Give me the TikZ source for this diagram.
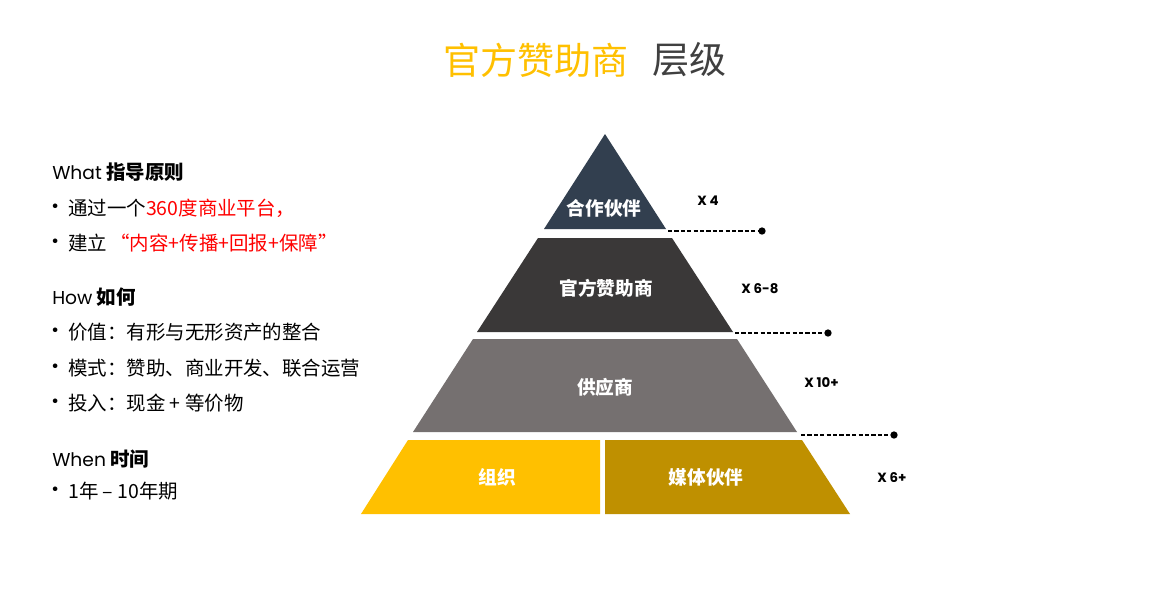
\documentclass[tikz,border=0pt]{standalone}
\usepackage{fontspec}
\setmainfont{Noto Sans CJK SC}
\newfontfamily\lat{Poppins}
\definecolor{goldY}{HTML}{FFC000}
\definecolor{goldD}{HTML}{BF9000}
\definecolor{slateT}{HTML}{323F4F}
\definecolor{darkB}{HTML}{3A3838}
\definecolor{grayB}{HTML}{757070}
\definecolor{titleG}{HTML}{404040}
\definecolor{redT}{HTML}{FF0000}
\begin{document}
\begin{tikzpicture}[x=0.75pt,y=-0.75pt,
  layer/.style={draw=none},
  ltext/.style={text=white,font=\fontsize{14}{16}\selectfont\bfseries,inner sep=0},
  xlab/.style={anchor=west,inner sep=0,font=\lat\fontsize{10}{12}\selectfont\bfseries},
  dashline/.style={line width=1.1pt,dash pattern=on 3.2pt off 1.6pt},
  dotend/.style={circle,fill=black,inner sep=0,minimum size=5.5pt},
  bul/.style={anchor=west,inner sep=0,font=\lat\fontsize{14}{16}\selectfont},
  body/.style={anchor=west,inner sep=0,font=\fontsize{14.6}{17}\selectfont},
  head/.style={anchor=west,inner sep=0,font=\fontsize{14.6}{17}\selectfont},
]
\useasboundingbox (0,0) rectangle (1168,608);
\fill[white] (0,0) rectangle (1168,608);

% title
\node[anchor=west,inner sep=0,text=goldY,font=\fontsize{27.8}{31}\selectfont] (title1) at (443,60) {官方赞助商};
\node[anchor=west,inner sep=0,text=titleG,font=\fontsize{27.8}{31}\selectfont] (title2) at (652,60) {层级};

% pyramid
\fill[slateT] (605,134) -- (666,229) -- (544,229) -- cycle;
\fill[darkB] (538,238) -- (672,238) -- (733,332) -- (477,332) -- cycle;
\fill[grayB] (473,339) -- (737,339) -- (797,432) -- (413,432) -- cycle;
\fill[goldY] (408,440) -- (600,440) -- (600,514) -- (361,514) -- cycle;
\fill[goldD] (605,440) -- (802,440) -- (850,514) -- (605,514) -- cycle;

\node[ltext] (l1) at (604,208) {合作伙伴};
\node[ltext] (l2) at (606,288) {官方赞助商};
\node[ltext] (l3) at (605,387) {供应商};
\node[ltext] (l4a) at (497,477) {组织};
\node[ltext] (l4b) at (706,477) {媒体伙伴};

% counts
\node[xlab] (x1) at (697,201) {X 4};
\node[xlab] (x2) at (741,289) {X 6-8};
\node[xlab] (x3) at (804,383) {X 10+};
\node[xlab] (x4) at (877,478) {X 6+};

% dashed leaders
\coordinate (d1a) at (668,231); \node[dotend] (d1b) at (762,231) {};
\coordinate (d2a) at (735,333); \node[dotend] (d2b) at (828,333) {};
\coordinate (d3a) at (801,435); \node[dotend] (d3b) at (894,435) {};
\draw[dashline] (d1a) -- (d1b.center);
\draw[dashline] (d2a) -- (d2b.center);
\draw[dashline] (d3a) -- (d3b.center);

% left text
\node[head] (h1) at (52,172) {{\lat\fontsize{14}{17}\selectfont What} \textbf{指导原则}};
\node[bul] (b1) at (51,208) {•};
\node[body] (t1) at (68,208) {通过一个\textcolor{redT}{360度商业平台，}};
\node[bul] (b2) at (51,243) {•};
\node[body] (t2) at (68,243) {建立\,\textcolor{redT}{“内容+传播+回报+保障”}};

\node[head] (h2) at (52,297) {{\lat\fontsize{14}{17}\selectfont How} \textbf{如何}};
\node[bul] (b3) at (51,332) {•};
\node[body] (t3) at (68,332) {价值：有形与无形资产的整合};
\node[bul] (b4) at (51,368) {•};
\node[body] (t4) at (68,368) {模式：赞助、商业开发、联合运营};
\node[bul] (b5) at (51,403) {•};
\node[body] (t5) at (68,403) {投入：现金 + 等价物};

\node[head] (h3) at (52,459) {{\lat\fontsize{14}{17}\selectfont When} \textbf{时间}};
\node[bul] (b6) at (51,491) {•};
\node[body] (t6) at (68,491) {1年 – 10年期};
\end{tikzpicture}
\end{document}
